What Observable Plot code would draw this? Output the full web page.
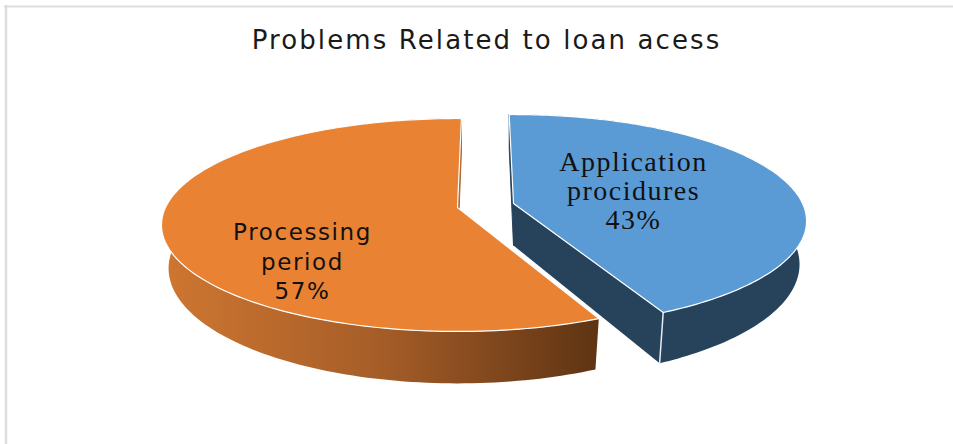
<!DOCTYPE html>
<html>
<head>
<meta charset="utf-8">
<script src="https://cdn.jsdelivr.net/npm/d3@7"></script>
<script src="https://cdn.jsdelivr.net/npm/@observablehq/plot@0.6"></script>
<style>
  html, body { margin: 0; background: #fff; }
  .chart-title text { letter-spacing: 2.1px; }
  .label-serif text { letter-spacing: 1.5px; }
  .label-sans text { letter-spacing: 1.6px; }
</style>
</head>
<body>
<div id="chart"></div>
<script>
// Chart content
const chartTitle = "Problems Related to loan acess";
const categories = ["Application procidures", "Processing period"];
const shares = [43, 57];
const labelLines = ["Application\nprocidures\n43%", "Processing\nperiod\n57%"];

// Page size and the shape of the tilted disc
const W = 953, H = 444;
const RX = 292, RY = 103.6, PERSPECTIVE = 0.1643;
const FLOOR = {drop: 42, xScale: 0.976, yScale: 1.08};

// Per-slice placement of the exploded pie
const slices = [
  {apex: [513, 203], start: -1, spread: 0.99, top: "#5B9BD5", wall: "#27425B", cut: "#27425B",
   label: [633, 190], font: "'Liberation Serif', serif", size: 28, lineHeight: 1.04, cls: "label-serif"},
  {apex: [457, 207], start: 155.7, spread: 1, top: "#EA8234", wall: "url(#rimShade)", cut: "#B0652B",
   label: [302, 260], font: "'DejaVu Sans', sans-serif", size: 23, lineHeight: 1.28, cls: "label-sans"}
];
slices.forEach((s, i) => {
  s.sweep = 360 * shares[i] / d3.sum(shares);
  s.name = categories[i];
  s.text = labelLines[i];
});

// Angle is measured clockwise from the back of the disc.
function project(s, deg) {
  const a = deg * Math.PI / 180;
  const u = Math.sin(a), v = -Math.cos(a), w = 1 - PERSPECTIVE * v;
  return [s.apex[0] + s.spread * RX * u / w, s.apex[1] + RY * v / w];
}
function toFloor(s, p) {
  return [
    s.apex[0] + (p[0] - s.apex[0]) * FLOOR.xScale,
    s.apex[1] + FLOOR.drop + (p[1] - s.apex[1]) * FLOOR.yScale
  ];
}
const arc = s => d3.range(0, 1.0001, 1 / 160).map(t => project(s, s.start + t * s.sweep));
const closed = pts => [...pts, pts[0]];
const wallBetween = (s, pts) => closed([...pts, ...pts.map(p => toFloor(s, p)).reverse()]);

const shape = (pts, options) => Plot.line(pts, {x: d => d[0], y: d => d[1], ...options});

function sliceMarks(s) {
  const rim = arc(s);
  const first = rim[0], last = rim[rim.length - 1];
  const isBlue = s === slices[0];
  const backEdge = isBlue ? first : last;
  const topFace = closed([s.apex, ...rim]);
  const marks = [
    shape(wallBetween(s, rim), {fill: s.wall, stroke: "none"}),
    shape(wallBetween(s, [backEdge, s.apex]), {fill: s.cut, stroke: s.cut, strokeWidth: 1}),
  ];
  // Only the blue slice turns its front cut face towards the viewer
  if (isBlue) {
    marks.push(shape(wallBetween(s, [s.apex, last]), {fill: s.cut, stroke: "none"}));
    marks.push(shape([last, toFloor(s, last)], {stroke: "#E8EDF2", strokeWidth: 1.5}));
  }
  marks.push(shape(topFace, {fill: s.top, stroke: "#FFFFFF", strokeWidth: 1.2, strokeLinejoin: "round"}));
  return marks;
}

const rimGradient = () => {
  const ns = "http://www.w3.org/2000/svg";
  const defs = document.createElementNS(ns, "defs");
  const g = document.createElementNS(ns, "linearGradient");
  g.setAttribute("id", "rimShade");
  g.setAttribute("gradientUnits", "userSpaceOnUse");
  g.setAttribute("x1", 165); g.setAttribute("x2", 597);
  g.setAttribute("y1", 0); g.setAttribute("y2", 0);
  [["0", "#CE7631"], ["0.5", "#A55D28"], ["1", "#5F3413"]].forEach(([o, c]) => {
    const stop = document.createElementNS(ns, "stop");
    stop.setAttribute("offset", o);
    stop.setAttribute("stop-color", c);
    g.appendChild(stop);
  });
  defs.appendChild(g);
  return defs;
};

const chart = Plot.plot({
  width: W, height: H,
  margin: 0,
  x: {domain: [0, W], range: [0, W], axis: null},
  y: {domain: [0, H], range: [0, H], axis: null},
  style: {background: "#fff"},
  marks: [
    rimGradient,
    // Frame: only its top and left edges fall inside the page
    Plot.ruleX([5.5], {y1: 5, y2: H, stroke: "#DDDDDD", strokeWidth: 2.5}),
    Plot.ruleY([6], {x1: 4, x2: W, stroke: "#DDDDDD", strokeWidth: 2}),
    // Orange slice sits behind the exploded blue one
    ...sliceMarks(slices[1]),
    ...sliceMarks(slices[0]),
    ...slices.map(s => Plot.text([s], {
      x: d => d.label[0], y: d => d.label[1], text: "text",
      fontFamily: s.font, fontSize: s.size, fill: "#111",
      textAnchor: "middle", lineAnchor: "middle", lineHeight: s.lineHeight,
      className: s.cls
    })),
    Plot.text([chartTitle], {
      x: () => 486, y: () => 40, text: d => d,
      fontFamily: "'DejaVu Sans', sans-serif", fontSize: 26, fill: "#1a1a1a",
      textAnchor: "middle", lineAnchor: "middle", className: "chart-title"
    })
  ]
});
document.getElementById("chart").appendChild(chart);
</script>
</body>
</html>
